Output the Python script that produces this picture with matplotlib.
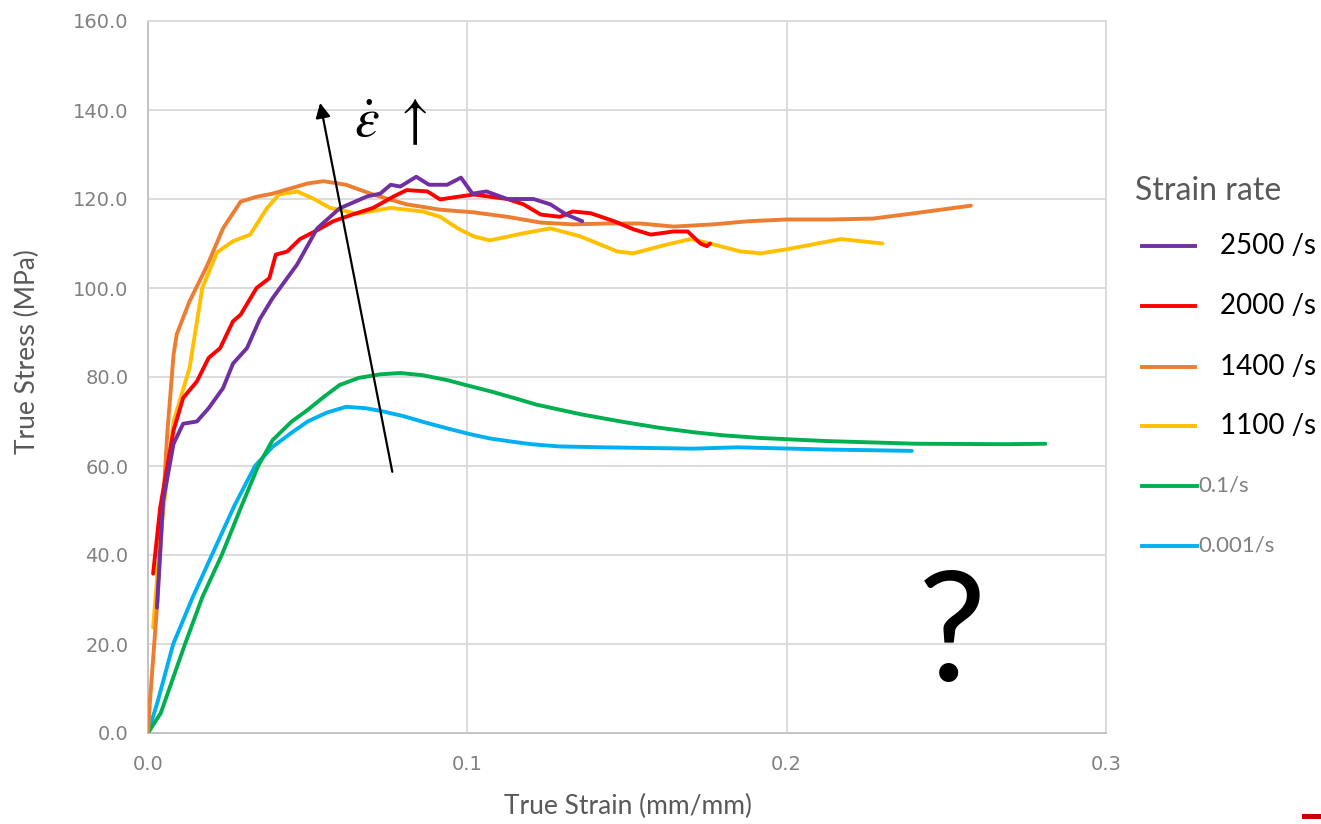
import matplotlib
matplotlib.use("Agg")
import matplotlib.pyplot as plt
from matplotlib.lines import Line2D
from matplotlib.patches import Rectangle

plt.rcParams['font.family'] = ['Lato', 'DejaVu Sans']
plt.rcParams['mathtext.fontset'] = 'stix'

# ---------------- data ----------------
labels = ["2500 /s", "2000 /s", "1400 /s", "1100 /s", "0.1/s", "0.001/s"]
colors = ["#7030A0", "#FF0000", "#ED7D31", "#FFC000", "#00B050", "#00B0F0"]

x_2500 = [0.0028, 0.0047, 0.008, 0.011, 0.0153, 0.019, 0.0235, 0.0266, 0.031, 0.035, 0.039,
          0.0467, 0.053, 0.060, 0.0687, 0.0727, 0.076, 0.079, 0.084, 0.088, 0.0937, 0.098,
          0.1016, 0.106, 0.1125, 0.1207, 0.126, 0.131, 0.136]
y_2500 = [28.2, 52, 65, 69.5, 70, 73, 77.5, 83, 86.5, 93, 97.7,
          105.3, 113.4, 117.9, 120.6, 121.2, 123.2, 122.8, 125, 123.2, 123.2, 124.8,
          121.2, 121.7, 120, 120, 118.8, 116.5, 115]

x_2000 = [0.0016, 0.0038, 0.008, 0.011, 0.0153, 0.019, 0.0226, 0.0266, 0.029, 0.034, 0.038,
          0.040, 0.0436, 0.0476, 0.053, 0.058, 0.064, 0.0705, 0.077, 0.081, 0.0875, 0.0915,
          0.098, 0.102, 0.1125, 0.1176, 0.123, 0.129, 0.133, 0.1386, 0.146, 0.152, 0.1574,
          0.1646, 0.169, 0.173, 0.175, 0.176]
y_2000 = [35.8, 50.6, 68, 75.3, 79, 84.3, 86.5, 92.5, 94, 100, 102.2,
          107.5, 108.2, 111, 113, 115, 116.5, 118, 120.6, 122, 121.7, 119.9,
          120.6, 121, 120, 118.8, 116.5, 116, 117.2, 116.8, 115, 113.2, 112,
          112.7, 112.7, 110, 109.4, 110]

x_1400 = [0, 0.0006, 0.003, 0.006, 0.008, 0.009, 0.013, 0.0185, 0.0235, 0.029, 0.034, 0.039,
          0.05, 0.055, 0.062, 0.0705, 0.081, 0.0915, 0.102, 0.1125, 0.123, 0.133, 0.144,
          0.154, 0.1646, 0.177, 0.188, 0.2, 0.2138, 0.227, 0.24, 0.2577]
y_1400 = [0, 7, 30, 67, 85, 89.6, 97, 105, 113.4, 119.4, 120.5, 121.2,
          123.5, 124, 123.2, 121, 118.8, 117.6, 117, 116, 114.7, 114.3, 114.5,
          114.5, 113.8, 114.3, 115, 115.4, 115.4, 115.6, 116.8, 118.5]

x_1100 = [0.0016, 0.004, 0.008, 0.013, 0.017, 0.0216, 0.0266, 0.032, 0.0373, 0.041, 0.0467,
          0.052, 0.057, 0.0655, 0.076, 0.086, 0.0915, 0.097, 0.102, 0.107, 0.1176, 0.126,
          0.1354, 0.147, 0.152, 0.1627, 0.17, 0.177, 0.1856, 0.192, 0.2, 0.217, 0.23]
y_1100 = [23.7, 45, 70, 82, 100, 108, 110.5, 112, 118, 121, 121.7,
          120, 118, 116.7, 118, 117.2, 116, 113.4, 111.6, 110.7, 112.3, 113.4,
          111.6, 108.2, 107.8, 109.8, 111, 109.8, 108.2, 107.8, 108.7, 111, 110]

x_01 = [0, 0.004, 0.0116, 0.017, 0.0231, 0.029, 0.0345, 0.039, 0.045, 0.05, 0.055, 0.06,
        0.066, 0.0727, 0.079, 0.086, 0.0937, 0.10, 0.1077, 0.115, 0.1216, 0.1357, 0.1497,
        0.16, 0.1707, 0.18, 0.1917, 0.2126, 0.2407, 0.2687, 0.281]
y_01 = [0, 4.5, 20, 30.5, 40, 50.5, 60, 65.8, 70, 72.6, 75.5, 78.2,
        79.8, 80.6, 80.9, 80.4, 79.3, 78.1, 76.7, 75.2, 73.8, 71.6, 69.8,
        68.6, 67.6, 66.9, 66.3, 65.6, 65.0, 64.9, 65.0]

x_0001 = [0, 0.003, 0.0079, 0.014, 0.020, 0.027, 0.0335, 0.039, 0.045, 0.05, 0.056, 0.062,
          0.068, 0.0727, 0.08, 0.0867, 0.094, 0.1006, 0.107, 0.1147, 0.12, 0.1287, 0.1426,
          0.1707, 0.1846, 0.2126, 0.2392]
y_0001 = [0, 7, 20, 30.5, 40, 51, 60, 64.3, 67.5, 70, 72, 73.3,
          73.0, 72.4, 71.2, 69.8, 68.4, 67.2, 66.2, 65.4, 64.9, 64.4, 64.2,
          63.9, 64.2, 63.7, 63.4]

series_x = [x_2500, x_2000, x_1400, x_1100, x_01, x_0001]
series_y = [y_2500, y_2000, y_1400, y_1100, y_01, y_0001]

x_ticks = [0.0, 0.1, 0.2, 0.3]
y_ticks = [0, 20, 40, 60, 80, 100, 120, 140, 160]

# ---------------- figure ----------------
W, H = 1321, 824
fig = plt.figure(figsize=(W / 100, H / 100), dpi=100)
ax = fig.add_axes([148 / W, 1 - 733 / H, (1106 - 148) / W, (733 - 21) / H])

grid_c = "#d9d9d9"
for xs, ys, c in reversed(list(zip(series_x, series_y, colors))):
    ax.plot(xs, ys, color=c, lw=2.8, solid_capstyle='round', solid_joinstyle='round', zorder=3)

ax.set_xlim(0, 0.3)
ax.set_ylim(0, 160)
ax.set_xticks(x_ticks)
ax.set_xticklabels([f"{v:.1f}" for v in x_ticks])
ax.set_yticks(y_ticks)
ax.set_yticklabels([f"{v:.1f}" for v in y_ticks])
ax.grid(True, color=grid_c, lw=1.3, zorder=0)
ax.set_axisbelow(True)
for s in ax.spines.values():
    s.set_color(grid_c)
    s.set_linewidth(1.3)
ax.spines['left'].set_color("#bfbfbf")
ax.spines['bottom'].set_color("#bfbfbf")
ax.tick_params(length=0, colors="#808080", labelsize=14)
for lab in ax.get_xticklabels() + ax.get_yticklabels():
    lab.set_family('DejaVu Sans')
ax.tick_params(axis='x', pad=16)
ax.tick_params(axis='y', pad=14)

fig.text(628 / W, 1 - 806 / H, "True Strain (mm/mm)", ha='center', va='center',
         fontsize=19, color="#595959")
fig.text(27 / W, 1 - 352 / H, "True Stress (MPa)", ha='center', va='center',
         rotation=90, fontsize=19, color="#595959")

# arrow and strain-rate symbol
ax.annotate("", xy=(0.0539, 141.6), xytext=(0.0765, 58.7),
            arrowprops=dict(arrowstyle='-|>', color='black', lw=1.6, mutation_scale=22,
                            shrinkA=0, shrinkB=0), zorder=5)
fig.text(391 / W, 1 - 123 / H, r"$\dot{\varepsilon}\ \uparrow$", ha='center', va='center',
         fontsize=40, color='black')

# question mark
fig.text(952 / W, 1 - 638 / H, "?", ha='center', va='center', fontsize=110, color='black')

# legend (manual)
fig.text(1135 / W, 1 - 191 / H, "Strain rate", ha='left', va='center', fontsize=23,
         color="#595959")
leg_y = [246, 306, 367, 426, 486, 546]
for i, (lab, c, py) in enumerate(zip(labels, colors, leg_y)):
    yf = 1 - py / H
    x1 = 1195 if i < 4 else 1197
    fig.add_artist(Line2D([1142 / W, x1 / W], [yf, yf], transform=fig.transFigure,
                          color=c, lw=2.8))
    if i < 4:
        fig.text(1220 / W, yf, lab, ha='left', va='center', fontsize=20, color='black')
    else:
        fig.text(1198 / W, yf, lab, ha='left', va='center', fontsize=16, color="#808080")

# small red mark at bottom right
fig.add_artist(Rectangle((1302 / W, 1 - 819 / H), 19 / W, 5 / H, transform=fig.transFigure,
                         color="#CC0000", lw=0))

fig.savefig("out.png", dpi=100)
